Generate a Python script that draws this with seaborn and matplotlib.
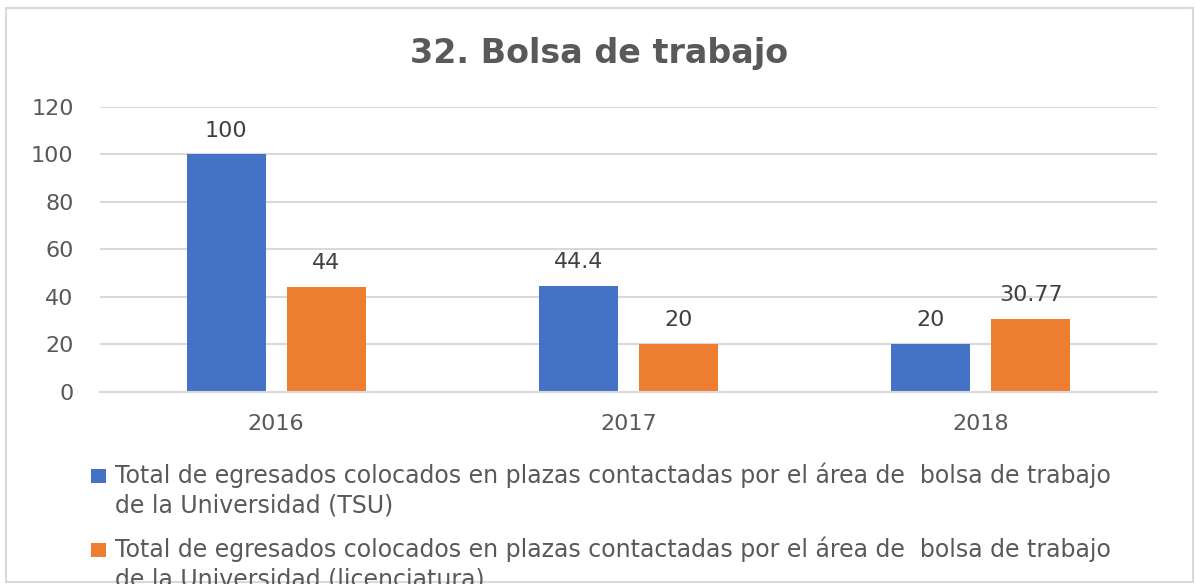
import matplotlib
matplotlib.use("Agg")
import matplotlib.pyplot as plt
import seaborn as sns
import pandas as pd
from matplotlib.patches import Rectangle

# ---- data ----
years = ["2016", "2017", "2018"]
tsu_values = [100, 44.4, 20]
lic_values = [44, 20, 30.77]
series_names = [
    "Total de egresados colocados en plazas contactadas por el área de  bolsa de trabajo\nde la Universidad (TSU)",
    "Total de egresados colocados en plazas contactadas por el área de  bolsa de trabajo\nde la Universidad (licenciatura)",
]
yticks = [0, 20, 40, 60, 80, 100, 120]
title = "32. Bolsa de trabajo"

colors = ["#4472C4", "#ED7D31"]
text_color = "#595959"
grid_color = "#D9D9D9"

sns.set_theme(style="white")
plt.rcParams["font.family"] = ["DejaVu Sans"]

df = pd.DataFrame({
    "Año": years * 2,
    "Valor": tsu_values + lic_values,
    "Serie": [series_names[0]] * 3 + [series_names[1]] * 3,
})

W, H = 1195, 584
fig = plt.figure(figsize=(W / 100, H / 100), dpi=100)
fig.patch.set_facecolor("white")
ax = fig.add_axes([100 / W, 1 - 391.5 / H, 1057 / W, (391.5 - 107) / H])

sns.barplot(data=df, x="Año", y="Valor", hue="Serie", palette=colors,
            width=0.568, gap=0.211, saturation=1, ax=ax, legend=False,
            errorbar=None, linewidth=0)

for cont in ax.containers:
    ax.bar_label(cont, labels=[f"{b.get_height():g}" for b in cont],
                 padding=10, fontsize=16, color="#404040")

ax.set_ylim(0, 120)
ax.set_xlim(-0.5, 2.5)
ax.set_yticks(yticks)
ax.set_yticklabels([str(t) for t in yticks])
ax.set_xlabel("")
ax.set_ylabel("")
ax.yaxis.grid(True, color=grid_color, linewidth=1.5)
ax.set_axisbelow(True)
for s in ["left", "right", "top"]:
    ax.spines[s].set_visible(False)
ax.spines["bottom"].set_color(grid_color)
ax.spines["bottom"].set_linewidth(1.5)
ax.tick_params(axis="y", length=0, pad=19, labelsize=16, labelcolor=text_color)
ax.tick_params(axis="x", length=0, pad=16, labelsize=16, labelcolor=text_color)

fig.text(599 / W, 1 - 63 / H, title, ha="center", va="baseline",
         fontsize=24, fontweight="bold", color=text_color)

# legend (manual)
entries = [(469, 483, 513), (543, 557, 587)]
for (sq_top, base1, base2), name, col in zip(entries, series_names, colors):
    fig.add_artist(Rectangle((91 / W, 1 - sq_top / H - 14 / H), 15 / W, 14 / H,
                             transform=fig.transFigure, facecolor=col,
                             edgecolor="none"))
    l1, l2 = name.split("\n")
    fig.text(115 / W, 1 - base1 / H, l1, va="baseline", ha="left",
             fontsize=17, color=text_color)
    fig.text(115 / W, 1 - base2 / H, l2, va="baseline", ha="left",
             fontsize=17, color=text_color)

# chart border
fig.add_artist(Rectangle((6 / W, 1 - 582 / H), (1193 - 6) / W, (582 - 8) / H,
                         transform=fig.transFigure, facecolor="none",
                         edgecolor=grid_color, linewidth=1.5))

fig.savefig("out.png", dpi=100, facecolor="white")
